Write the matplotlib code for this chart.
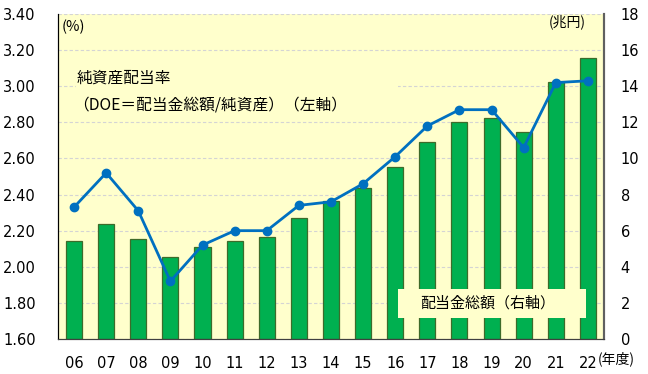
import matplotlib.pyplot as plt
import matplotlib.patches as mpatches
import numpy as np

plt.rcParams['font.family'] = ['Noto Sans CJK JP', 'DejaVu Sans']

anos = ['06', '07', '08', '09', '10', '11', '12', '13', '14', '15', '16',
        '17', '18', '19', '20', '21', '22']
# 配当金総額 (兆円, 右軸)
dividendos = [5.4, 6.35, 5.55, 4.52, 5.11, 5.43, 5.63, 6.72, 7.64, 8.34, 9.53,
              10.89, 12.03, 12.23, 11.45, 14.23, 15.54]
# DOE (%, 左軸)
doe = [2.33, 2.52, 2.31, 1.92, 2.12, 2.20, 2.20, 2.34, 2.36, 2.46, 2.61,
       2.78, 2.87, 2.87, 2.66, 3.02, 3.03]

ticks_esq = [1.6, 1.8, 2.0, 2.2, 2.4, 2.6, 2.8, 3.0, 3.2, 3.4]
ticks_dir = [0, 2, 4, 6, 8, 10, 12, 14, 16, 18]

fig = plt.figure(figsize=(6.48, 3.74), dpi=100)
ax = fig.add_axes([0.0895, 0.0936, 0.8426, 0.869])
ax2 = ax.twinx()

x = np.arange(len(anos)) + 0.5

# barras - eixo direito
ax.bar(x, dividendos, width=0.5, color='#00b050', edgecolor='#3d6b2a',
       linewidth=0.9, zorder=2)
ax.set_ylim(0, 18)
ax.set_yticks(ticks_dir)
ax.set_yticklabels([str(t) for t in ticks_dir], family='DejaVu Sans', fontsize=10.5)
ax.yaxis.tick_right()
ax.set_facecolor('#ffffcc')
ax.grid(axis='y', color='#d4d4d4', linestyle=(0, (3, 2)), linewidth=0.8)
ax.set_axisbelow(True)
ax.set_xlim(0, len(anos))
ax.set_xticks(x)
ax.set_xticklabels(anos, family='DejaVu Sans', fontsize=10.5)
ax.tick_params(axis='both', length=0)
ax.tick_params(axis='y', pad=12)
ax.tick_params(axis='x', pad=12)

# linha - eixo esquerdo
ax2.plot(x, doe, color='#0070c0', linewidth=2, marker='o', markersize=6, zorder=3)
ax2.set_ylim(1.6, 3.4)
ax2.set_yticks(ticks_esq)
ax2.set_yticklabels(['%.2f' % t for t in ticks_esq], family='DejaVu Sans', fontsize=10.5)
ax2.yaxis.tick_left()
ax2.tick_params(axis='y', length=0, pad=16)

for a in (ax, ax2):
    a.spines['top'].set_visible(False)
    a.spines['left'].set_color('black')
    a.spines['bottom'].set_color('#404040')
    a.spines['right'].set_color('#606060')
    a.spines['right'].set_linewidth(1.5)

# caixas de texto
ax2.add_patch(mpatches.Rectangle((0.033, 0.69), 0.59, 0.165, transform=ax2.transAxes,
                                 facecolor='#ffffcc', edgecolor='none', zorder=1))
ax2.text(0.035, 0.803, '純資産配当率', transform=ax2.transAxes, fontsize=11.3,
         va='center', ha='left', zorder=4)
ax2.text(0.027, 0.72, '（DOE＝配当金総額/純資産）（左軸）', transform=ax2.transAxes,
         fontsize=11.3, va='center', ha='left', zorder=4)

ax2.add_patch(mpatches.Rectangle((0.623, 0.065), 0.344, 0.089, transform=ax2.transAxes,
                                 facecolor='#ffffcc', edgecolor='none', zorder=5))
ax2.text(0.786, 0.111, '配当金総額（右軸）', transform=ax2.transAxes, fontsize=10.8,
         va='center', ha='center', zorder=6)

ax2.text(0.007, 0.96, '(%)', transform=ax2.transAxes, fontsize=10.5,
         va='center', ha='left')
ax2.text(0.967, 0.975, '(兆円)', transform=ax2.transAxes, fontsize=10,
         va='center', ha='right')
fig.text(0.923, 0.04, '(年度)', fontsize=10, va='center', ha='left')

plt.savefig('out.png', dpi=100)
